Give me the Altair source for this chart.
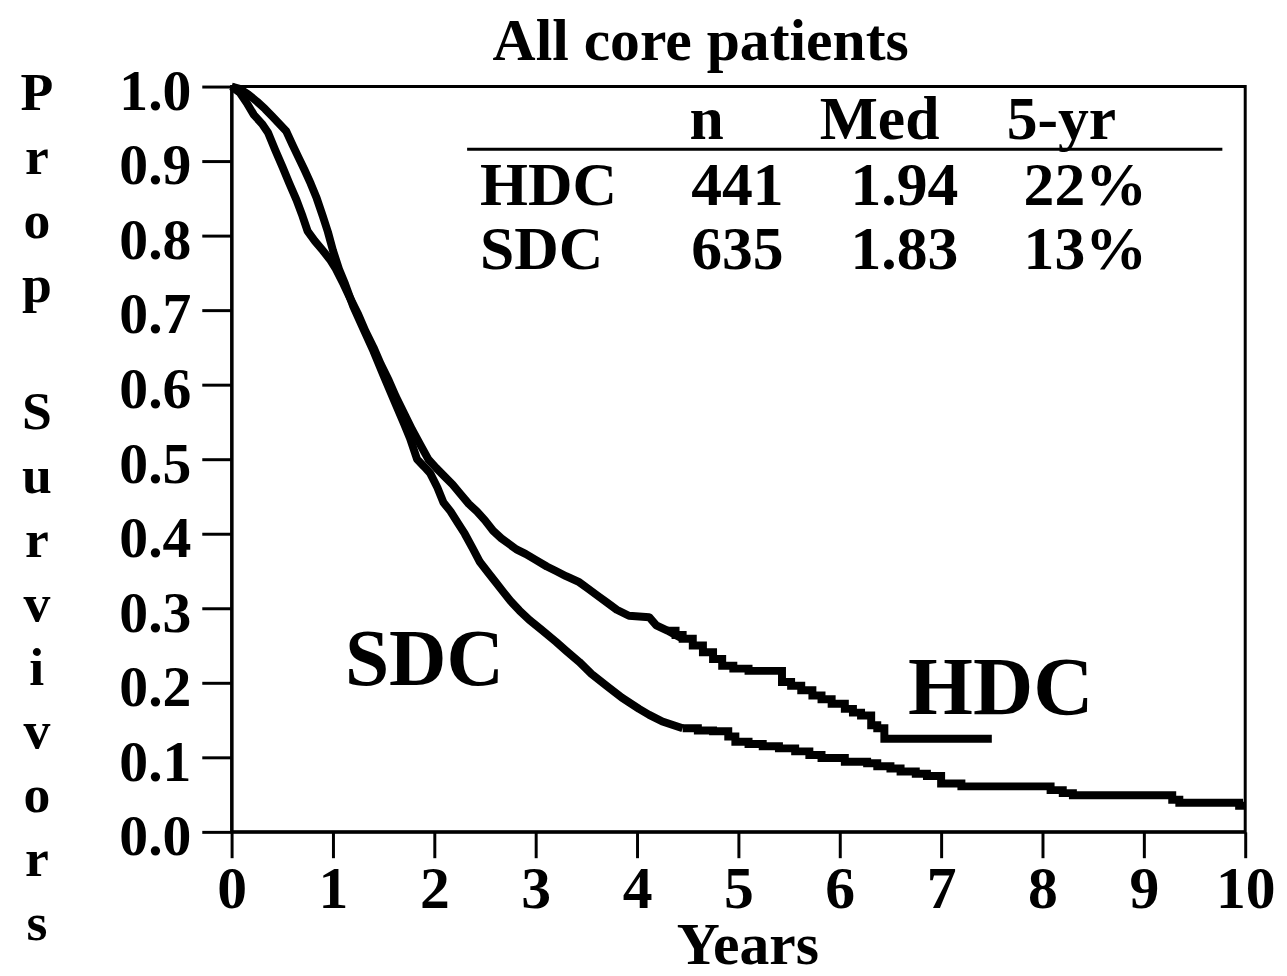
import altair as alt
import pandas as pd

# ---- data ----
hdc_years = [0.00, 0.08, 0.15, 0.22, 0.30, 0.36, 0.43, 0.50, 0.57, 0.64, 0.70, 0.75, 0.82, 0.90,
             0.97, 1.03, 1.10, 1.17, 1.25, 1.32, 1.40, 1.47, 1.55, 1.62, 1.70, 1.78, 1.86, 1.94,
             2.02, 2.10, 2.18, 2.26, 2.34, 2.42, 2.50, 2.58, 2.66, 2.74, 2.81, 2.90, 3.00, 3.11,
             3.20, 3.30, 3.43, 3.52, 3.61, 3.70, 3.80, 3.92, 4.12, 4.19, 4.30, 4.38, 4.45, 4.55,
             4.65, 4.75, 4.84, 4.95, 5.10, 5.33, 5.43, 5.52, 5.62, 5.73, 5.82, 5.92, 6.05, 6.13,
             6.21, 6.31, 6.37, 6.44, 7.50]
hdc_surv = [1.000, 0.992, 0.978, 0.962, 0.950, 0.938, 0.915, 0.893, 0.870, 0.848, 0.826, 0.806,
            0.793, 0.780, 0.768, 0.755, 0.736, 0.716, 0.694, 0.672, 0.650, 0.628, 0.606, 0.584,
            0.562, 0.540, 0.520, 0.500, 0.488, 0.477, 0.466, 0.453, 0.440, 0.430, 0.418, 0.404,
            0.394, 0.386, 0.379, 0.373, 0.365, 0.356, 0.350, 0.343, 0.335, 0.326, 0.317, 0.308,
            0.298, 0.290, 0.288, 0.277, 0.270, 0.264, 0.259, 0.250, 0.241, 0.232, 0.223, 0.219,
            0.216, 0.216, 0.201, 0.196, 0.190, 0.183, 0.178, 0.172, 0.165, 0.160, 0.156, 0.143,
            0.139, 0.125, 0.125]

sdc_years = [0.00, 0.08, 0.16, 0.25, 0.33, 0.40, 0.47, 0.54, 0.60, 0.66, 0.72, 0.78, 0.84, 0.90,
             0.95, 1.00, 1.06, 1.12, 1.20, 1.30, 1.40, 1.50, 1.60, 1.70, 1.76, 1.83, 1.90, 1.96,
             2.03, 2.09, 2.16, 2.23, 2.30, 2.38, 2.45, 2.53, 2.60, 2.68, 2.75, 2.84, 2.94, 3.05,
             3.20, 3.30, 3.43, 3.55, 3.70, 3.85, 4.02, 4.12, 4.25, 4.45, 4.60, 4.75, 4.90, 4.97,
             5.10, 5.24, 5.40, 5.56, 5.70, 5.82, 6.05, 6.27, 6.37, 6.50, 6.60, 6.75, 6.86, 7.00,
             7.20, 8.00, 8.08, 8.20, 8.30, 9.19, 9.28, 9.35, 9.87, 9.94, 10.00]
sdc_surv = [1.000, 0.997, 0.990, 0.980, 0.970, 0.960, 0.950, 0.940, 0.922, 0.905, 0.888, 0.870,
            0.850, 0.826, 0.805, 0.780, 0.755, 0.735, 0.705, 0.675, 0.645, 0.612, 0.580, 0.548,
            0.528, 0.500, 0.490, 0.481, 0.462, 0.442, 0.430, 0.415, 0.400, 0.380, 0.362, 0.348,
            0.336, 0.322, 0.310, 0.297, 0.284, 0.272, 0.255, 0.243, 0.228, 0.212, 0.196, 0.180,
            0.165, 0.157, 0.148, 0.139, 0.136, 0.135, 0.128, 0.121, 0.118, 0.115, 0.112, 0.108,
            0.103, 0.099, 0.094, 0.092, 0.088, 0.085, 0.081, 0.078, 0.075, 0.065, 0.061, 0.061,
            0.056, 0.052, 0.049, 0.049, 0.043, 0.039, 0.039, 0.035, 0.035]

groups = ["HDC", "SDC"]
n_patients = ["441", "635"]
median_years = ["1.94", "1.83"]
five_year = ["22%", "13%"]
headers = ["n", "Med", "5-yr"]
x_ticks = [0, 1, 2, 3, 4, 5, 6, 7, 8, 9, 10]
y_ticks = [0.0, 0.1, 0.2, 0.3, 0.4, 0.5, 0.6, 0.7, 0.8, 0.9, 1.0]
y_title_words = ["Prop", "Survivors"]

FONT = "Liberation Serif"
SPLIT = 4.5  # dense early part drawn smoothly, sparse late part as steps
LETTER_STEP = 64.2

curves = pd.concat([
    pd.DataFrame({"years": hdc_years, "surv": hdc_surv, "group": "HDC"}),
    pd.DataFrame({"years": sdc_years, "surv": sdc_surv, "group": "SDC"}),
])

x_enc = alt.X("years:Q",
              scale=alt.Scale(domain=[0, 10], nice=False, zero=False),
              axis=alt.Axis(values=x_ticks, format="d", tickSize=26, labelPadding=3,
                            labelBaseline="top", labelFontSize=60, labelFlush=False,
                            labelOverlap=False, title="Years", titleFontSize=60,
                            titleX=519, titleY=132, titleAlign="center",
                            titleBaseline="alphabetic"))
y_enc = alt.Y("surv:Q",
              scale=alt.Scale(domain=[0, 1], nice=False),
              axis=alt.Axis(values=y_ticks, format=".1f", tickSize=30, labelPadding=11,
                            labelFontSize=58, labelOffset=6, labelFlush=False,
                            labelOverlap=False, title=None))

base = alt.Chart(curves).encode(x=x_enc, y=y_enc, detail="group:N")
early = base.transform_filter(alt.datum.years <= SPLIT).mark_line(
    interpolate="linear", strokeWidth=8, color="black", strokeJoin="round")
late = base.transform_filter(alt.datum.years >= SPLIT - 0.2).mark_line(
    interpolate="step-after", strokeWidth=8, color="black", strokeJoin="miter")


def label(text, x, y, size, align="center"):
    return alt.Chart(pd.DataFrame({"t": [text]})).mark_text(
        font=FONT, fontWeight="bold", fontSize=size, align=align,
        baseline="alphabetic", color="black"
    ).encode(x=alt.value(x), y=alt.value(y), text="t:N")


texts = []
header_x = [478, 652, 835]
for h, hx in zip(headers, header_x):
    texts.append(label(h, hx, 53, 62))
row_y = [119, 184]
for i in range(2):
    texts.append(label(groups[i], 250, row_y[i], 62, align="left"))
    texts.append(label(n_patients[i], 509, row_y[i], 62))
    texts.append(label(median_years[i], 677, row_y[i], 62))
    texts.append(label(five_year[i], 859, row_y[i], 62))
texts.append(label(groups[1], 194, 602, 80))
texts.append(label(groups[0], 774, 631, 84))

# vertical y-axis title: each word written one letter per line, with a blank line between
y_labels = []
start_line = 0
for word in y_title_words:
    y_labels.append(alt.Chart(pd.DataFrame({"a": [0]})).mark_text(
        text=list(word), font=FONT, fontWeight="bold", fontSize=54,
        lineHeight=LETTER_STEP, align="center", baseline="top", color="black"
    ).encode(x=alt.value(-196), y=alt.value(-19 + start_line * LETTER_STEP)))
    start_line += len(word) + 1

header_rule = alt.Chart(pd.DataFrame({"a": [0]})).mark_rule(
    color="black", strokeWidth=3
).encode(x=alt.value(237), x2=alt.value(997), y=alt.value(63))

chart = alt.layer(early, late, header_rule, *y_labels, *texts).properties(
    width=1020,
    height=750,
    autosize=alt.AutoSizeParams(type="none"),
    padding={"left": 225, "top": 76, "right": 34, "bottom": 142},
    background="white",
    title=alt.TitleParams("All core patients", font=FONT, fontSize=60, fontWeight="bold",
                          anchor="middle", frame="group", dx=-38, offset=-56,
                          baseline="alphabetic", color="black"),
).configure_view(
    stroke="black", strokeWidth=3
).configure_axis(
    domainColor="black", domainWidth=3, tickColor="black", tickWidth=3,
    labelFont=FONT, labelFontWeight="bold", labelColor="black",
    titleFont=FONT, titleFontWeight="bold", titleColor="black", grid=False,
)

chart.save("out.html", embed_options={"renderer": "svg", "actions": False})
